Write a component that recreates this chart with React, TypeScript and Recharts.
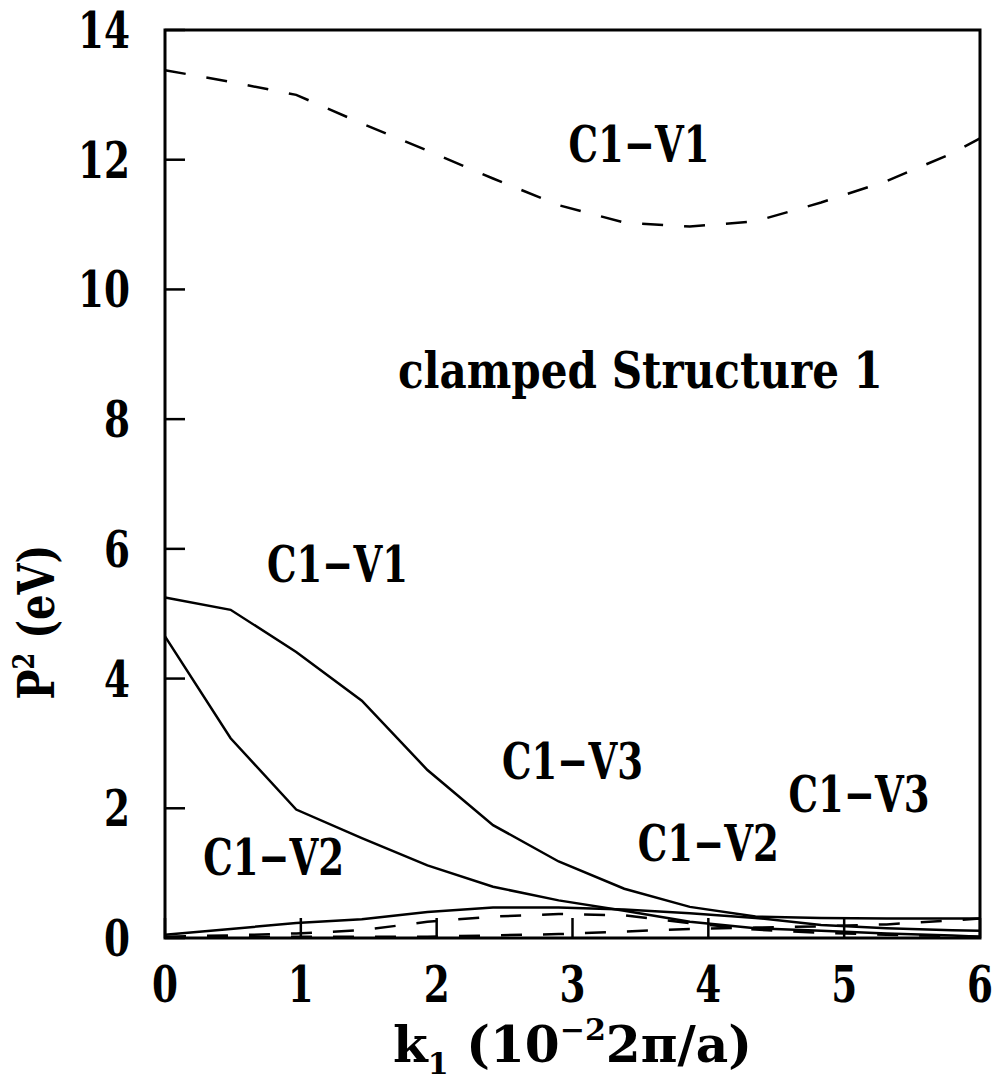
import React from 'react';
import { LineChart, Line, XAxis, YAxis, ReferenceArea, ReferenceDot, Label } from 'recharts';

// k1 sample points (10^-2 2pi/a)
const kValues = [0, 0.483, 0.966, 1.449, 1.932, 2.415, 2.898, 3.381, 3.864, 4.347, 4.83, 5.313, 5.796, 6.0];
// P^2 (eV) series
const c1v1Dashed = [13.38, 13.2, 13.0, 12.56, 12.14, 11.71, 11.3, 11.03, 10.97, 11.05, 11.34, 11.67, 12.1, 12.33];
const c1v1Solid = [5.25, 5.06, 4.41, 3.66, 2.59, 1.74, 1.18, 0.76, 0.48, 0.33, 0.31, 0.3, 0.3, 0.3];
const c1v2Solid = [4.65, 3.08, 1.98, 1.54, 1.12, 0.79, 0.58, 0.42, 0.25, 0.15, 0.11, 0.07, 0.04, 0.02];
const c1v3Solid = [0.05, 0.14, 0.23, 0.29, 0.4, 0.47, 0.47, 0.44, 0.38, 0.31, 0.2, 0.15, 0.12, 0.11];
const c1v2Dashed = [0.02, 0.04, 0.07, 0.12, 0.25, 0.33, 0.37, 0.35, 0.23, 0.13, 0.08, 0.05, 0.03, 0.02];
const c1v3Dashed = [0.01, 0.01, 0.02, 0.02, 0.02, 0.04, 0.06, 0.1, 0.14, 0.16, 0.18, 0.21, 0.27, 0.3];

const xTicks = [0, 1, 2, 3, 4, 5, 6];
const yTicks = [0, 2, 4, 6, 8, 10, 12, 14];

const annotations = [
  { k: 3.49, p: 11.96, text: 'C1\u2212V1' },
  { k: 3.5, p: 8.48, text: 'clamped Structure 1' },
  { k: 1.27, p: 5.49, text: 'C1\u2212V1' },
  { k: 3.0, p: 2.45, text: 'C1\u2212V3' },
  { k: 0.8, p: 0.97, text: 'C1\u2212V2' },
  { k: 4.0, p: 1.18, text: 'C1\u2212V2' },
  { k: 5.11, p: 1.94, text: 'C1\u2212V3' },
];

const data = kValues.map((k, i) => ({
  k,
  c1v1Dashed: c1v1Dashed[i],
  c1v1Solid: c1v1Solid[i],
  c1v2Solid: c1v2Solid[i],
  c1v3Solid: c1v3Solid[i],
  c1v2Dashed: c1v2Dashed[i],
  c1v3Dashed: c1v3Dashed[i],
}));

const FONT = '"DejaVu Serif", "Liberation Serif", serif';
const FS = 50;
const FW = 'bold';

const YTick = (props: any) => {
  const { x, y, payload } = props;
  const s = String(payload.value);
  return (
    <g>
      <line x1={x + 35} x2={x + 55} y1={y} y2={y} stroke="#000" strokeWidth={2.5} />
      <text x={x} y={y + 18} textAnchor="end" fontFamily={FONT} fontWeight={FW} fontSize={FS}
        textLength={26 * s.length} lengthAdjust="spacingAndGlyphs" fill="#000">{s}</text>
    </g>
  );
};

const XTick = (props: any) => {
  const { x, y, payload } = props;
  const s = String(payload.value);
  return (
    <g>
      <line x1={x} x2={x} y1={y - 27} y2={y - 47} stroke="#000" strokeWidth={2.5} />
      <text x={x} y={y + 37} textAnchor="middle" fontFamily={FONT} fontWeight={FW} fontSize={FS}
        textLength={26 * s.length} lengthAdjust="spacingAndGlyphs" fill="#000">{s}</text>
    </g>
  );
};

const XTitle = (props: any) => {
  const { viewBox } = props;
  const cx = viewBox.x + viewBox.width / 2;
  const by = viewBox.y + 124;
  return (
    <text x={cx} y={by} textAnchor="middle" fontFamily={FONT} fontWeight={FW} fontSize={FS}
      textLength={359} lengthAdjust="spacingAndGlyphs" fill="#000">
      k<tspan fontSize={30} dy={12}>1</tspan>
      <tspan dy={-12}> (10</tspan>
      <tspan fontSize={30} dy={-22}>{'\u22122'}</tspan>
      <tspan dy={22}>{'2\u03c0/a)'}</tspan>
    </text>
  );
};

const YTitle = (props: any) => {
  const { viewBox } = props;
  const tx = viewBox.x - 11;
  const ty = 622;
  return (
    <text x={tx} y={ty} transform={`rotate(-90 ${tx} ${ty})`} textAnchor="middle" fontFamily={FONT}
      fontWeight={FW} fontSize={FS} textLength={155} lengthAdjust="spacingAndGlyphs" fill="#000">
      P<tspan fontSize={30} dy={-20}>2</tspan>
      <tspan dy={20}> (eV)</tspan>
    </text>
  );
};

const makeAnnot = (text: string) => (props: any) => {
  const { cx, cy } = props;
  const w = text.length > 6 ? 485 : 28.2 * text.length;
  return (
    <text x={cx} y={cy} textAnchor="middle" fontFamily={FONT} fontWeight={FW} fontSize={FS}
      textLength={w} lengthAdjust="spacingAndGlyphs" fill="#000">{text}</text>
  );
};

export default function App() {
  return (
    <div style={{ position: 'absolute', left: 0, top: 0, width: 1000, height: 1085, background: '#fff' }}>
      <LineChart width={1000} height={1085} data={data} margin={{ top: 30, right: 20, left: 65, bottom: 87 }}>
        <XAxis type="number" dataKey="k" domain={[0, 6]} ticks={xTicks} height={60} axisLine={false}
          tickLine={false} tickSize={0} tickMargin={27} tick={<XTick />} interval={0}
          label={<Label content={<XTitle />} />} />
        <YAxis type="number" domain={[0, 14]} ticks={yTicks} width={100} axisLine={false}
          tickLine={false} tickSize={0} tickMargin={35} tick={<YTick />} interval={0}
          label={<Label content={<YTitle />} />} />
        <ReferenceArea x1={0} x2={6} y1={0} y2={14} fill="none" fillOpacity={0} stroke="#000" strokeWidth={3}
          ifOverflow="visible" />
        <Line type="linear" dataKey="c1v1Dashed" stroke="#000" strokeWidth={2.5} strokeDasharray="21 21" dot={false} isAnimationActive={false} />
        <Line type="linear" dataKey="c1v1Solid" stroke="#000" strokeWidth={2.5} dot={false} isAnimationActive={false} />
        <Line type="linear" dataKey="c1v2Solid" stroke="#000" strokeWidth={2.5} dot={false} isAnimationActive={false} />
        <Line type="linear" dataKey="c1v3Solid" stroke="#000" strokeWidth={2.5} dot={false} isAnimationActive={false} />
        <Line type="linear" dataKey="c1v2Dashed" stroke="#000" strokeWidth={2.5} strokeDasharray="21 21" dot={false} isAnimationActive={false} />
        <Line type="linear" dataKey="c1v3Dashed" stroke="#000" strokeWidth={2.5} strokeDasharray="21 21" dot={false} isAnimationActive={false} />
        {annotations.map((a, i) => (
          <ReferenceDot key={i} x={a.k} y={a.p} r={1} ifOverflow="visible" shape={makeAnnot(a.text)} />
        ))}
      </LineChart>
    </div>
  );
}
